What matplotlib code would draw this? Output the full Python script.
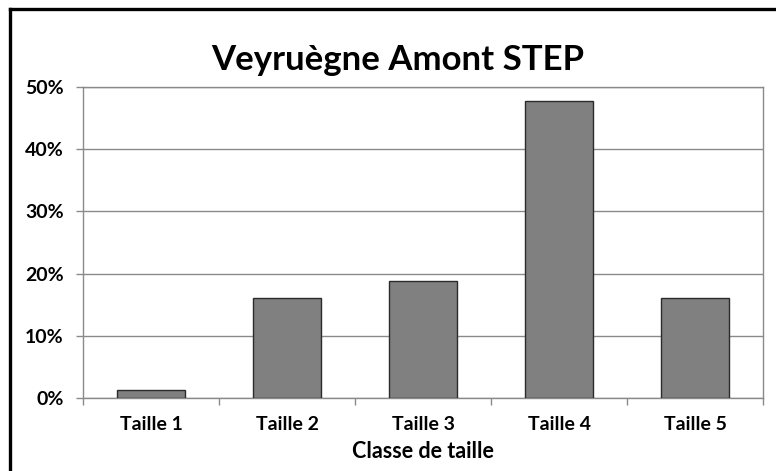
import matplotlib
matplotlib.use("Agg")
import matplotlib.pyplot as plt
from matplotlib.lines import Line2D
from matplotlib.ticker import FuncFormatter, FixedLocator, NullFormatter

plt.rcParams['font.family'] = ['Lato', 'DejaVu Sans']

categories = ["Taille 1", "Taille 2", "Taille 3", "Taille 4", "Taille 5"]
values = [1.3, 16.1, 18.8, 47.7, 16.1]   # percent
y_ticks = [0, 10, 20, 30, 40, 50]
title = "Veyruègne Amont STEP"
xlabel = "Classe de taille"

fig = plt.figure(figsize=(7.76, 4.71), dpi=100)
fig.patch.set_facecolor("white")
ax = fig.add_axes([83 / 776, 1 - 398 / 471, (763 - 83) / 776, (398 - 87) / 471])

x = list(range(len(categories)))
ax.bar(x, values, width=0.5, color="#808080", edgecolor="#2b2b2b", linewidth=1.0, zorder=3)

ax.set_xlim(-0.5, len(categories) - 0.5)
ax.set_ylim(0, 50)
ax.set_yticks(y_ticks)
ax.yaxis.set_major_formatter(FuncFormatter(lambda v, p: f"{int(v)}%"))
ax.yaxis.grid(True, color="#8a8a8a", linewidth=1.0, zorder=0)

# category labels centred, tick marks between categories
ax.set_xticks(x)
ax.set_xticklabels(categories, fontsize=14, fontweight="bold")
ax.tick_params(axis="x", which="major", length=0, pad=13)
ax.xaxis.set_minor_locator(FixedLocator([i - 0.5 for i in range(len(categories) + 1)]))
ax.xaxis.set_minor_formatter(NullFormatter())
ax.tick_params(axis="x", which="minor", length=5, color="#8a8a8a", width=1)
ax.tick_params(axis="y", length=5, color="#8a8a8a", width=1, labelsize=14, pad=9)
for lbl in ax.get_yticklabels():
    lbl.set_fontweight("bold")

for side in ["left", "right", "top", "bottom"]:
    ax.spines[side].set_color("#8a8a8a")
    ax.spines[side].set_linewidth(1.0)

ax.set_xlabel(xlabel, fontsize=15.5, fontweight="bold", labelpad=6)
fig.text(398 / 776, 1 - 70 / 471, title, ha="center", va="baseline", fontsize=25, fontweight="bold")

# outer chart frame (left and top edges)
W, H = 776, 471
fig.add_artist(Line2D([9.5 / W, 9.5 / W], [0, 1 - 8.5 / H], color="black", linewidth=2.4,
                      transform=fig.transFigure))
fig.add_artist(Line2D([9.5 / W, 1], [1 - 8.5 / H, 1 - 8.5 / H], color="black", linewidth=2.4,
                      transform=fig.transFigure))

fig.savefig("out.png", dpi=100)
